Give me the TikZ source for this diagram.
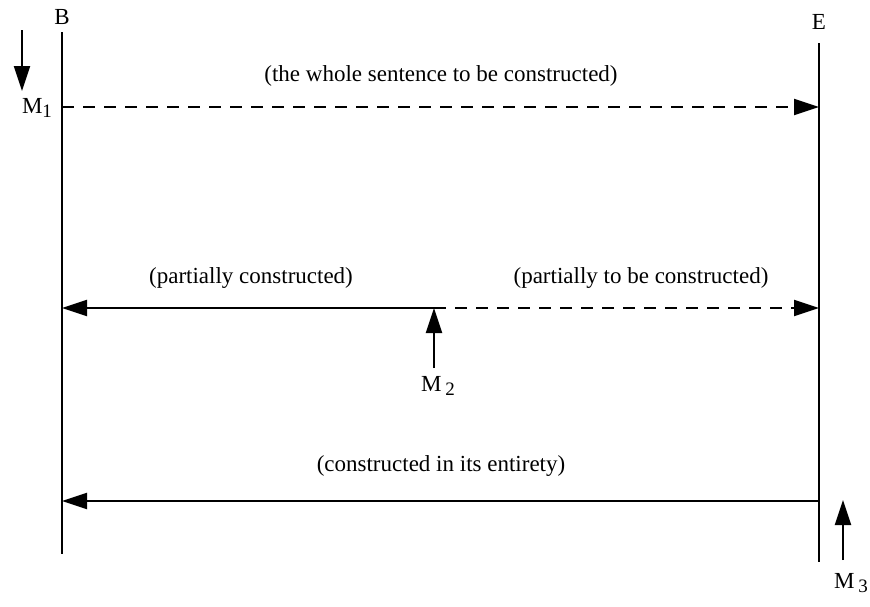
\documentclass[tikz,border=0pt]{standalone}
\usepackage{fontspec}
\setmainfont{Liberation Serif}
\usetikzlibrary{arrows.meta}
\tikzset{
  ln/.style={line width=2pt},
  arr/.style={line width=2pt,-{Triangle[length=25pt,width=16pt]}},
  dsh/.style={dash pattern=on 12pt off 9pt},
  lbl/.style={font=\fontsize{23}{27}\selectfont, inner sep=0pt},
}
\newcommand{\Msub}[1]{M\raisebox{-0.35ex}{\fontsize{19}{22}\selectfont #1}}
\begin{document}
\begin{tikzpicture}[x=1pt,y=-1pt]
\useasboundingbox (0,0) rectangle (870,606);
% vertical lines
\coordinate (Btop) at (62,32);
\coordinate (Bbot) at (62,554);
\coordinate (Etop) at (819,43);
\coordinate (Ebot) at (819,562);
\draw[ln] (Btop) -- (Bbot);
\draw[ln] (Etop) -- (Ebot);
\node[lbl] (B) at (62,17) {B};
\node[lbl] (E) at (819,22) {E};
% top
\coordinate (b1) at (62,107);
\coordinate (e1) at (819,107);
\draw[arr,dsh] (b1) -- (e1);
\node[lbl] (t1) at (441,76) {(the whole sentence to be constructed)};
\coordinate (m1s) at (22,30);
\coordinate (m1e) at (22,91);
\draw[arr] (m1s) -- (m1e);
\node[lbl] (M1) at (37,108) {\Msub{1}};
% middle
\coordinate (b2) at (62,308);
\coordinate (e2) at (819,308);
\coordinate (m2) at (434,308);
\draw[arr] (m2) -- (b2);
\draw[arr,dsh] (m2) -- (e2);
\node[lbl] (t2a) at (251,278) {(partially constructed)};
\node[lbl] (t2b) at (641,278) {(partially to be constructed)};
\coordinate (m2s) at (434,368);
\draw[arr] (m2s) -- (m2);
\node[lbl] (M2) at (438,386) {M\,\raisebox{-0.45ex}{\fontsize{19}{22}\selectfont 2}};
% bottom
\coordinate (b3) at (62,501);
\coordinate (e3) at (819,501);
\draw[arr] (e3) -- (b3);
\node[lbl] (t3) at (441,466) {(constructed in its entirety)};
\coordinate (m3s) at (843,560);
\coordinate (m3e) at (843,500);
\draw[arr] (m3s) -- (m3e);
\node[lbl] (M3) at (851,583) {M\,\raisebox{-0.45ex}{\fontsize{19}{22}\selectfont 3}};
\end{tikzpicture}
\end{document}
